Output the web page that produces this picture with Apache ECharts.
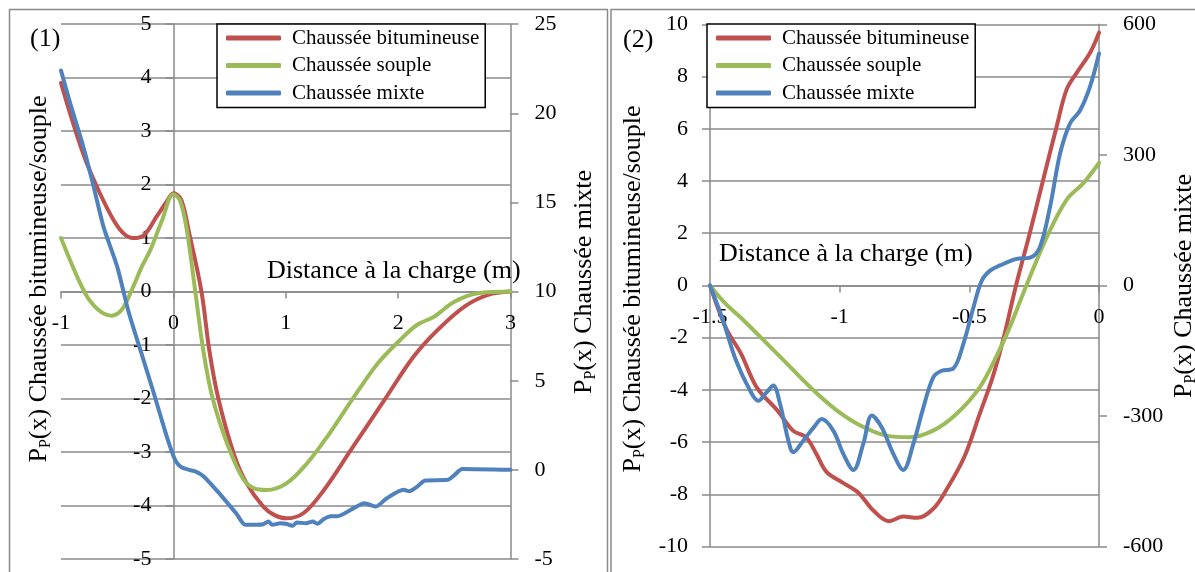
<!DOCTYPE html>
<html>
<head>
<meta charset="utf-8">
<script src="https://cdn.jsdelivr.net/npm/echarts@6/dist/echarts.min.js"></script>
<style>
  html, body { margin: 0; padding: 0; background: #fff; }
  #chart { width: 1195px; height: 572px; }
</style>
</head>
<body>
<div id="chart"></div>
<script>
const seriesNames = ['Chaussée bitumineuse', 'Chaussée souple', 'Chaussée mixte'];
const colors = ['#C0504D', '#9BBB59', '#4F81BD'];

// panel (1) : [distance (m), Pp(x)]
const bit1 = [[-1, 3.9], [-0.9, 3.2], [-0.78, 2.45], [-0.65, 1.82], [-0.53, 1.33], [-0.44, 1.08], [-0.36, 1.0],
  [-0.26, 1.06], [-0.15, 1.4], [-0.06, 1.68], [0, 1.84], [0.07, 1.72], [0.14, 1.1], [0.25, 0], [0.32, -1.1],
  [0.4, -2.0], [0.54, -3.05], [0.65, -3.58], [0.8, -4.02], [0.9, -4.18], [1.0, -4.24], [1.16, -4.14],
  [1.34, -3.71], [1.58, -2.96], [1.88, -2.02], [2.14, -1.21], [2.35, -0.72], [2.59, -0.28], [2.8, -0.06], [3.0, 0.0]];
const souple1 = [[-1, 1.0], [-0.92, 0.59], [-0.83, 0.16], [-0.75, -0.15], [-0.65, -0.37], [-0.55, -0.45],
  [-0.46, -0.34], [-0.37, 0.03], [-0.28, 0.47], [-0.2, 0.8], [-0.1, 1.34], [0, 1.82], [0.06, 1.7], [0.12, 1.15],
  [0.195, 0], [0.27, -1.15], [0.35, -2.0], [0.48, -2.85], [0.62, -3.5], [0.72, -3.68], [0.83, -3.71],
  [1.01, -3.58], [1.19, -3.21], [1.37, -2.71], [1.61, -1.96], [1.82, -1.34], [2.02, -0.9], [2.17, -0.62],
  [2.32, -0.47], [2.5, -0.19], [2.71, -0.03], [3.0, 0.0]];
const mixte1 = [[-1, 22.4], [-0.92, 20.6], [-0.8, 18.1], [-0.71, 15.9], [-0.62, 13.6], [-0.5, 11.4], [-0.4, 8.9],
  [-0.28, 6.45], [-0.18, 4.42], [-0.11, 2.94], [-0.04, 1.5], [0.02, 0.5], [0.07, 0.15], [0.14, 0.0], [0.2, -0.1],
  [0.27, -0.37], [0.42, -1.4], [0.56, -2.45], [0.64, -3.08], [0.74, -3.08], [0.8, -3.05], [0.845, -2.9],
  [0.88, -3.08], [0.95, -3.0], [1.0, -3.02], [1.06, -3.14], [1.1, -2.95], [1.18, -3.0], [1.24, -2.9],
  [1.28, -3.02], [1.34, -2.75], [1.4, -2.6], [1.46, -2.6], [1.58, -2.24], [1.7, -1.87], [1.8, -2.06],
  [1.9, -1.59], [2.05, -1.12], [2.1, -1.2], [2.17, -0.94], [2.24, -0.6], [2.44, -0.56], [2.5, -0.3],
  [2.57, 0.05], [3.0, 0.0]];

// panel (2)
const bit2 = [[-1.5, 0], [-1.44, -1.6], [-1.38, -2.62], [-1.32, -3.9], [-1.24, -4.79], [-1.18, -5.56],
  [-1.13, -5.81], [-1.09, -6.45], [-1.05, -7.15], [-0.99, -7.54], [-0.93, -7.92], [-0.87, -8.62], [-0.81, -9.03],
  [-0.755, -8.85], [-0.7, -8.9], [-0.64, -8.56], [-0.59, -7.85], [-0.52, -6.58], [-0.46, -4.92], [-0.41, -3.51],
  [-0.37, -2.1], [-0.32, 0], [-0.27, 1.88], [-0.215, 4.06], [-0.163, 6.1], [-0.125, 7.5], [-0.086, 8.14],
  [-0.035, 8.9], [0, 9.68]];
const souple2 = [[-1.5, 0], [-1.44, -0.7], [-1.37, -1.34], [-1.28, -2.23], [-1.19, -3.13], [-1.1, -4.02],
  [-1.01, -4.79], [-0.92, -5.36], [-0.82, -5.75], [-0.73, -5.81], [-0.64, -5.56], [-0.55, -4.92], [-0.46, -3.9],
  [-0.39, -2.6], [-0.34, -1.5], [-0.28, 0], [-0.2, 1.88], [-0.125, 3.28], [-0.06, 3.92], [0, 4.69]];
const mixte2 = [[-1.5, 0], [-1.45, -80], [-1.4, -172], [-1.346, -241], [-1.314, -265], [-1.281, -245],
  [-1.256, -230], [-1.23, -272], [-1.198, -356], [-1.179, -383], [-1.14, -356], [-1.1, -326], [-1.069, -307],
  [-1.024, -334], [-0.986, -387], [-0.947, -424], [-0.909, -364], [-0.876, -299], [-0.838, -326], [-0.793, -387],
  [-0.755, -424], [-0.716, -364], [-0.677, -280], [-0.639, -211], [-0.607, -196], [-0.562, -191], [-0.523, -134],
  [-0.484, -50], [-0.452, 11], [-0.42, 34], [-0.382, 46], [-0.318, 61], [-0.266, 64], [-0.228, 88], [-0.189, 180],
  [-0.15, 303], [-0.112, 372], [-0.073, 402], [-0.035, 456], [0, 533]];

const xTitle = 'Distance à la charge (m)';
const leftTitle = '{m|P}{s|P}{m|(x) Chaussée bitumineuse/souple}';
const rightTitle = '{m|P}{s|P}{m|(x) Chaussée mixte}';

const serif = '"Liberation Serif", "Times New Roman", serif';
const gray = '#8a8a8a';

// plot boxes of the two panels
const box1 = { left: 61, top: 24.2, width: 449.5, height: 534.8 };
const box2 = { left: 710, top: 24.3, width: 389, height: 522.3 };

const chart = echarts.init(document.getElementById('chart'));

function line(name, data, xi, yi, color, smooth) {
  return {
    name: name, type: 'line', xAxisIndex: xi, yAxisIndex: yi, data: data,
    showSymbol: false, symbol: 'none', smooth: smooth, animation: false,
    lineStyle: { color: color, width: 4, cap: 'round', join: 'round' },
    itemStyle: { color: color }
  };
}

// shift an axis so it crosses the other axis at zero (onZero is ignored with 2 y axes)
function zeroShift(size, min, max) {
  return -size * (0 - min) / (max - min);
}

function xAxis(grid, min, max, interval, offset) {
  return {
    type: 'value', gridIndex: grid, position: 'bottom', offset: offset, min: min, max: max, interval: interval,
    axisLine: { onZero: false, lineStyle: { color: gray, width: 1.5 } },
    axisTick: { length: 7, lineStyle: { color: gray, width: 1.5 } },
    axisLabel: { margin: 21, fontSize: 22, fontFamily: serif, color: '#000', showMinLabel: true, showMaxLabel: true },
    splitLine: { show: false }
  };
}

function yAxis(grid, pos, min, max, interval, offset, split, margin) {
  return {
    type: 'value', gridIndex: grid, position: pos, offset: offset, min: min, max: max, interval: interval,
    axisLine: { show: true, onZero: false, lineStyle: { color: gray, width: 1.5 } },
    axisTick: { show: true, length: 8, lineStyle: { color: gray, width: 1.5 } },
    axisLabel: { margin: margin, fontSize: 22, fontFamily: serif, color: '#000' },
    splitLine: { show: split, lineStyle: { color: gray, width: 1.5 } }
  };
}

function legend(left) {
  return {
    data: seriesNames, left: left, top: 24, orient: 'vertical',
    icon: 'roundRect', itemWidth: 55, itemHeight: 5, itemGap: 6.5,
    padding: [3.5, 6, 4, 9], borderColor: '#000', borderWidth: 1.5, backgroundColor: '#fff',
    textStyle: { fontFamily: serif, fontSize: 21, color: '#000', lineHeight: 21, padding: [0, 0, 0, 6] },
    selectedMode: false
  };
}

function text(x, y, str) {
  return {
    type: 'text', x: x, y: y, z: 100,
    style: { text: str, fontFamily: serif, fontSize: 26, fill: '#000', verticalAlign: 'middle' }
  };
}

function vtext(x, y, str) {
  return {
    type: 'text', x: x, y: y, rotation: Math.PI / 2, z: 100,
    style: {
      text: str, fill: '#000', align: 'center', verticalAlign: 'middle',
      rich: {
        m: { fontFamily: serif, fontSize: 26, lineHeight: 30 },
        s: { fontFamily: serif, fontSize: 16, lineHeight: 17, verticalAlign: 'bottom' }
      }
    }
  };
}

const option = {
  backgroundColor: '#fff',
  animation: false,
  grid: [box1, box2],
  xAxis: [
    xAxis(0, -1, 3, 1, zeroShift(box1.height, -5, 5)),
    xAxis(1, -1.5, 0, 0.5, zeroShift(box2.height, -10, 10))
  ],
  yAxis: [
    yAxis(0, 'left', -5, 5, 1, zeroShift(box1.width, -1, 3), true, 22),
    yAxis(0, 'right', -5, 25, 5, 0, false, 24),
    yAxis(1, 'left', -10, 10, 2, 0, true, 22),
    yAxis(1, 'right', -600, 600, 300, 0, false, 24)
  ],
  legend: [legend(217), legend(707)],
  series: [
    line(seriesNames[0], bit1, 0, 0, colors[0], 0.35),
    line(seriesNames[1], souple1, 0, 0, colors[1], 0.35),
    line(seriesNames[2], mixte1, 0, 1, colors[2], 0.25),
    line(seriesNames[0], bit2, 1, 2, colors[0], 0.35),
    line(seriesNames[1], souple2, 1, 2, colors[1], 0.35),
    line(seriesNames[2], mixte2, 1, 3, colors[2], 0.35)
  ],
  graphic: [
    { type: 'rect', shape: { x: 9.5, y: 9.5, width: 598, height: 700 }, style: { fill: 'none', stroke: gray, lineWidth: 1.5 } },
    { type: 'rect', shape: { x: 611, y: 9.5, width: 700, height: 700 }, style: { fill: 'none', stroke: gray, lineWidth: 1.5 } },
    text(30, 39, '(1)'),
    text(623, 40, '(2)'),
    text(267, 271, xTitle),
    text(719, 254, xTitle),
    vtext(39, 279, leftTitle),
    vtext(584, 282, rightTitle),
    vtext(633, 289, leftTitle),
    vtext(1184, 286, rightTitle)
  ]
};

chart.setOption(option);
</script>
</body>
</html>
